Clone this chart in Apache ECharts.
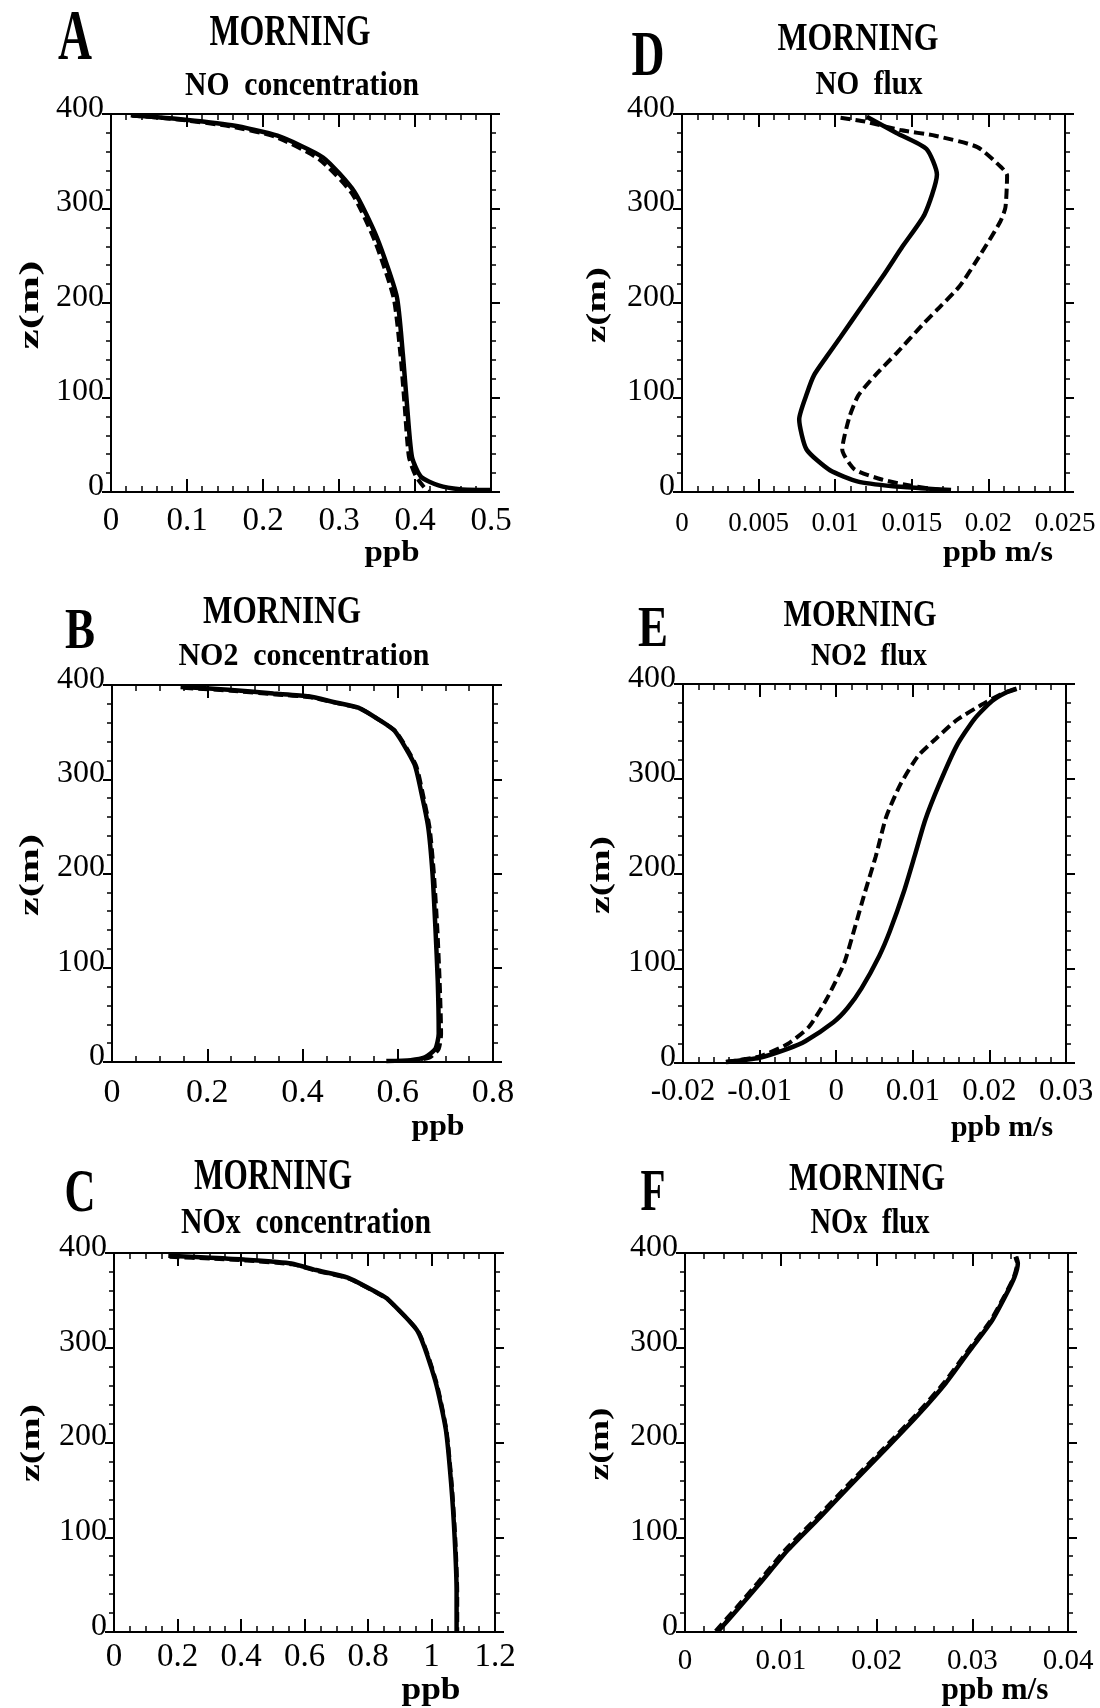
<!DOCTYPE html>
<html>
<head>
<meta charset="utf-8">
<script src="https://cdn.jsdelivr.net/npm/echarts@6/dist/echarts.min.js"></script>
<style>
  html, body { margin: 0; padding: 0; background: #fff; }
  #chart { width: 1100px; height: 1708px; }
</style>
</head>
<body>
<div id="chart"></div>
<script>
// height ticks, shared by all panels
const zTicks = [0, 100, 200, 300, 400];

// [value, z(m)] pairs; solid and dashed runs
const noConcSolid = [[0.028,398.5],[0.085,395],[0.159,388],[0.219,377],[0.279,354],[0.320,318],[0.350,269],[0.376,207],[0.384,146],[0.389,97],[0.396,37],[0.408,16],[0.431,7],[0.459,3],[0.5,2]];
const noConcDashed = [[0.026,398.5],[0.085,394.5],[0.156,387],[0.216,376],[0.274,352],[0.317,316],[0.347,266],[0.372,205],[0.381,144],[0.386,95],[0.392,37],[0.401,17],[0.412,5],[0.418,0.5]];

const no2ConcSolid = [[0.144,398],[0.244,395],[0.339,391],[0.413,388],[0.465,382],[0.517,376],[0.561,363],[0.594,351],[0.635,316],[0.649,287],[0.664,249],[0.673,200],[0.679,143],[0.684,86],[0.686,30],[0.679,14],[0.657,5],[0.627,2],[0.576,1]];
const no2ConcDashed = [[0.150,397],[0.250,394],[0.343,390],[0.417,387],[0.470,381],[0.521,375],[0.564,362],[0.597,350],[0.638,315],[0.652,286],[0.667,248],[0.676,199],[0.683,142],[0.688,85],[0.691,30],[0.686,14],[0.668,5],[0.640,2]];

const noxConcSolid = [[0.171,397],[0.304,395],[0.415,393],[0.559,389],[0.636,382],[0.736,374],[0.835,357],[0.863,351],[0.957,317],[1.012,265],[1.045,214],[1.062,156],[1.073,99],[1.079,42],[1.079,1]];
const noxConcDashed = [[0.175,396],[0.308,394],[0.420,392],[0.562,388],[0.640,381],[0.740,373],[0.838,356],[0.866,350],[0.960,316],[1.015,264],[1.047,213],[1.064,155],[1.075,98],[1.081,41],[1.081,1]];

const noFluxSolid = [[0.01206,397],[0.0140,380],[0.01596,363],[0.01664,336],[0.01584,294],[0.01440,260],[0.01310,228],[0.01172,196],[0.01035,164],[0.00943,143],[0.00863,124],[0.00817,105],[0.00765,77],[0.00813,45],[0.00966,23],[0.0115,11],[0.01378,6],[0.0156,4],[0.01756,2]];
const noFluxDashed = [[0.01035,396],[0.01195,392],[0.01424,383],[0.01653,377],[0.01928,365],[0.02088,343],[0.02122,335],[0.02111,301],[0.02077,286],[0.01951,252],[0.01813,218],[0.01660,192],[0.01570,177],[0.01401,147],[0.01264,124],[0.0115,102],[0.01092,79],[0.01046,45],[0.01126,24],[0.0131,13],[0.01515,6],[0.01698,2]];

const no2FluxSolid = [[-0.01439,1],[-0.0100,5.6],[-0.00634,15],[-0.00404,23],[-0.00036,43],[0.00148,58],[0.00332,79],[0.00562,113],[0.0070,139],[0.00884,181],[0.01022,218],[0.0116,256],[0.01344,294],[0.01574,335],[0.01804,363],[0.02034,382],[0.02218,391],[0.02356,395]];
const no2FluxDashed = [[-0.01439,1],[-0.0100,7],[-0.00634,20],[-0.00358,38],[-0.00128,67],[0.00102,105],[0.0024,142],[0.00378,181],[0.00516,218],[0.00654,260],[0.00838,294],[0.01068,324],[0.01298,342],[0.01574,362],[0.01896,378],[0.02172,390],[0.02356,395]];

const noxFluxSolid = [[0.00348,1],[0.00567,26],[0.00787,52],[0.01079,87],[0.01409,121],[0.01738,156],[0.02104,194],[0.02433,229],[0.02726,263],[0.0298,298],[0.03202,328],[0.03348,355],[0.03439,374],[0.03476,389],[0.03458,396]];
const noxFluxDashed = [[0.00320,1],[0.00540,26],[0.00760,52],[0.01050,87],[0.01380,121],[0.01710,156],[0.02078,194],[0.02410,229],[0.02705,263],[0.02962,298],[0.03188,328],[0.03338,355],[0.03432,374],[0.03470,389],[0.03450,396]];

// x-axis ticks per panel
const noConcTicks = [0, 0.1, 0.2, 0.3, 0.4, 0.5];
const no2ConcTicks = [0, 0.2, 0.4, 0.6, 0.8];
const noxConcTicks = [0, 0.2, 0.4, 0.6, 0.8, 1, 1.2];
const noFluxTicks = [0, 0.005, 0.01, 0.015, 0.02, 0.025];
const no2FluxTicks = [-0.02, -0.01, 0, 0.01, 0.02, 0.03];
const noxFluxTicks = [0, 0.01, 0.02, 0.03, 0.04];

const FONT = '"Liberation Serif", "Times New Roman", serif';

const panels = [
  { letter: 'A', sub: 'NO  concentration', unit: 'ppb', ticks: noConcTicks, minor: 5, solid: noConcSolid, dashed: noConcDashed,
    grid: { left: 111, top: 114, width: 380, height: 378 }, xFont: 33, xMargin: 13,
    t: { L: [75, 40, 72, 34], M: [290, 33, 45, 161], S: [302, 86, 34, 234], U: [392, 553, 30, 55], Z: [31, 305, 44, 89] } },
  { letter: 'D', sub: 'NO  flux', unit: 'ppb m/s', ticks: noFluxTicks, minor: 5, solid: noFluxSolid, dashed: noFluxDashed,
    grid: { left: 682, top: 114, width: 383, height: 378 }, xFont: 27, xMargin: 18,
    t: { L: [648, 58, 64, 33], M: [858, 40, 40, 161], S: [869, 85, 34, 107], U: [998, 553, 30, 110], Z: [598, 305, 40, 76] } },
  { letter: 'B', sub: 'NO2  concentration', unit: 'ppb', ticks: no2ConcTicks, minor: 4, solid: no2ConcSolid, dashed: no2ConcDashed,
    grid: { left: 112, top: 685, width: 381, height: 377 }, xFont: 34, xMargin: 14,
    t: { L: [80, 634, 56, 30], M: [282, 613, 40, 158], S: [304, 657, 32, 251], U: [438, 1127, 30, 53], Z: [31, 875, 44, 82] } },
  { letter: 'E', sub: 'NO2  flux', unit: 'ppb m/s', ticks: no2FluxTicks, minor: 5, solid: no2FluxSolid, dashed: no2FluxDashed,
    grid: { left: 683, top: 684, width: 383, height: 379 }, xFont: 31, xMargin: 13,
    t: { L: [653, 632, 56, 30], M: [860, 616, 38, 153], S: [869, 657, 32, 116], U: [1002, 1128, 30, 102], Z: [602, 875, 42, 78] } },
  { letter: 'C', sub: 'NOx  concentration', unit: 'ppb', ticks: noxConcTicks, minor: 4, solid: noxConcSolid, dashed: noxConcDashed,
    grid: { left: 114, top: 1253, width: 381, height: 379 }, xFont: 33, xMargin: 9,
    t: { L: [80, 1195, 62, 31], M: [273, 1178, 44, 158], S: [306, 1224, 36, 250], U: [431, 1691, 32, 59], Z: [32, 1443, 42, 78] } },
  { letter: 'F', sub: 'NOx  flux', unit: 'ppb m/s', ticks: noxFluxTicks, minor: 5, solid: noxFluxSolid, dashed: noxFluxDashed,
    grid: { left: 685, top: 1253, width: 383, height: 379 }, xFont: 29, xMargin: 15,
    t: { L: [653, 1194, 60, 25], M: [867, 1180, 40, 156], S: [870, 1224, 36, 119], U: [995, 1691, 32, 107], Z: [601, 1444, 42, 73] } }
];

// the figure was squeezed sideways, so the bold captions get scaled to the measured width
const ctx = document.createElement('canvas').getContext('2d');
function caption(text, spec, rotated) {
  const [cx, cy, size, w] = spec;
  ctx.font = 'bold ' + size + 'px ' + FONT;
  const mw = ctx.measureText(text).width;
  return {
    type: 'text', x: cx, y: cy, silent: true,
    rotation: rotated ? Math.PI / 2 : 0,
    scaleX: w / mw,
    scaleY: rotated ? 26 / (size * 0.95) : 1,
    style: { text: text, fontSize: size, fontFamily: FONT, fontWeight: 'bold', fill: '#000', align: 'center', verticalAlign: 'middle' }
  };
}

const axisLine = { show: true, onZero: false, lineStyle: { color: '#000', width: 2 } };
const grids = [], xAxes = [], yAxes = [], series = [], graphics = [];

panels.forEach((p, i) => {
  grids.push(Object.assign({ outerBoundsMode: 'none', containLabel: false }, p.grid));
  const xr = { type: 'value', gridIndex: i, min: p.ticks[0], max: p.ticks[p.ticks.length - 1], interval: p.ticks[1] - p.ticks[0],
    axisLine: axisLine, splitLine: { show: false },
    axisTick: { show: true, inside: true, length: 13, lineStyle: { color: '#000', width: 2 } },
    minorTick: { show: true, splitNumber: p.minor, length: 6, lineStyle: { color: '#000', width: 1.5 } } };
  xAxes.push(Object.assign({}, xr, { position: 'bottom',
    axisLabel: { show: true, color: '#000', fontFamily: FONT, fontSize: p.xFont, margin: p.xMargin } }));
  xAxes.push(Object.assign({}, xr, { position: 'top', axisLabel: { show: false } }));

  const yr = { type: 'value', gridIndex: i, min: zTicks[0], max: zTicks[zTicks.length - 1], interval: zTicks[1] - zTicks[0],
    axisLine: axisLine, splitLine: { show: false },
    axisTick: { show: true, inside: false, length: 9, lineStyle: { color: '#000', width: 2 } },
    minorTick: { show: true, splitNumber: 5, length: 5, lineStyle: { color: '#000', width: 1.5 } } };
  yAxes.push(Object.assign({}, yr, { position: 'left',
    axisLabel: { show: true, color: '#000', fontFamily: FONT, fontSize: 32, margin: 7, verticalAlign: 'bottom', lineHeight: 11 } }));
  yAxes.push(Object.assign({}, yr, { position: 'right', axisLabel: { show: false } }));

  series.push({ type: 'line', xAxisIndex: 2 * i, yAxisIndex: 2 * i, data: p.dashed, symbol: 'none', smooth: 0.2,
    lineStyle: { color: '#000', width: 4, type: [10, 5] }, z: 2 });
  series.push({ type: 'line', xAxisIndex: 2 * i, yAxisIndex: 2 * i, data: p.solid, symbol: 'none', smooth: 0.2,
    lineStyle: { color: '#000', width: 4.5 }, z: 3 });

  graphics.push(caption(p.letter, p.t.L));
  graphics.push(caption('MORNING', p.t.M));
  graphics.push(caption(p.sub, p.t.S));
  graphics.push(caption(p.unit, p.t.U));
  graphics.push(caption('z(m)', p.t.Z, true));
});

const chart = echarts.init(document.getElementById('chart'), null, { renderer: 'canvas' });
chart.setOption({
  animation: false,
  backgroundColor: '#fff',
  textStyle: { fontFamily: FONT, color: '#000' },
  grid: grids,
  xAxis: xAxes,
  yAxis: yAxes,
  series: series,
  graphic: graphics
});
</script>
</body>
</html>
